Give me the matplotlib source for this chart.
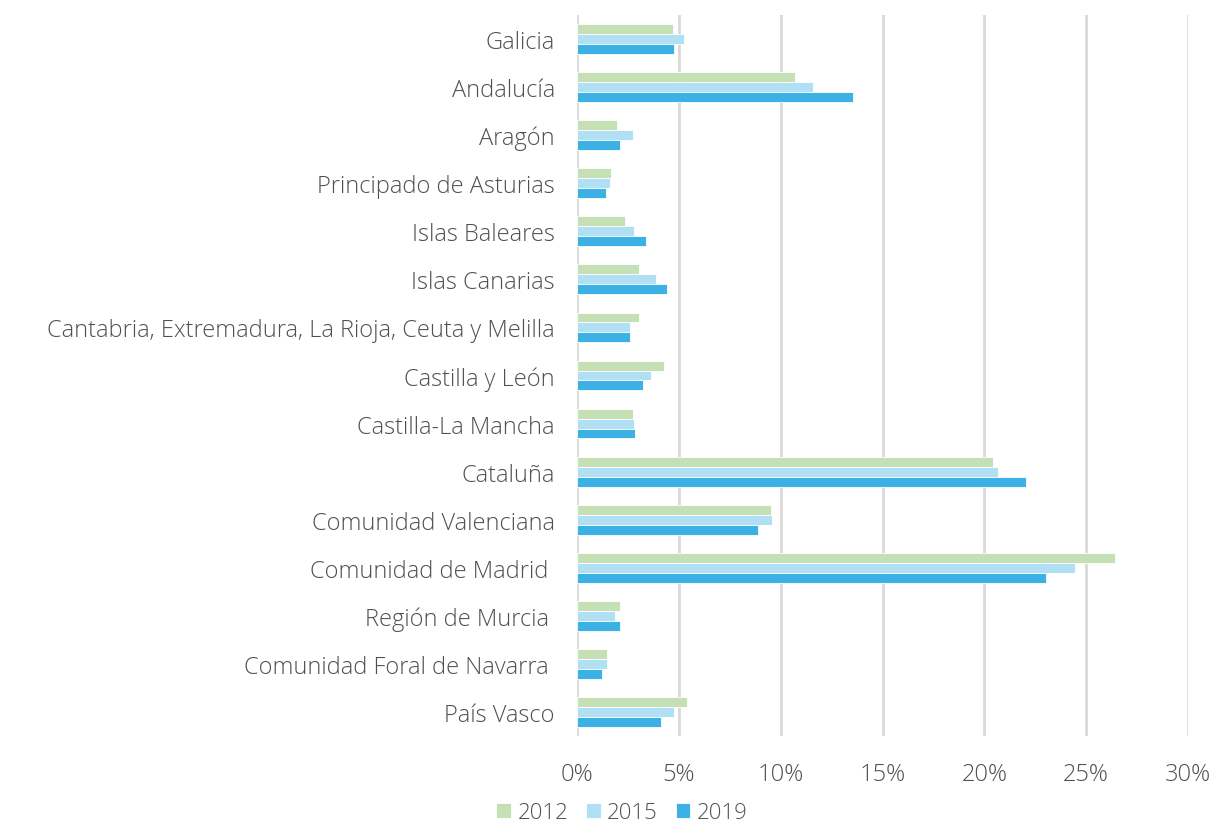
import matplotlib.pyplot as plt
import numpy as np

regions = ['Galicia', 'Andalucía', 'Aragón', 'Principado de Asturias', 'Islas Baleares',
           'Islas Canarias', 'Cantabria, Extremadura, La Rioja, Ceuta y Melilla',
           'Castilla y León', 'Castilla-La Mancha', 'Cataluña', 'Comunidad Valenciana',
           'Comunidad de Madrid ', 'Región de Murcia ', 'Comunidad Foral de Navarra ',
           'País Vasco']
years = ['2012', '2015', '2019']
v2012 = [4.70, 10.68, 1.98, 1.67, 2.36, 3.03, 3.06, 4.29, 2.74, 20.44, 9.51, 26.42, 2.12, 1.45, 5.42]
v2015 = [5.26, 11.58, 2.74, 1.64, 2.79, 3.88, 2.62, 3.65, 2.80, 20.69, 9.55, 24.46, 1.89, 1.49, 4.75]
v2019 = [4.78, 13.56, 2.11, 1.43, 3.41, 4.44, 2.59, 3.24, 2.87, 22.06, 8.90, 23.03, 2.10, 1.22, 4.13]
colors = ['#C5E0B4', '#B1DFF4', '#3BB1E6']

plt.rcParams['font.family'] = ['Open Sans', 'DejaVu Sans']
txt = '#505050'

fig = plt.figure(figsize=(12.16, 8.29), dpi=100)
ax = fig.add_axes([577/1216, 1-737/829, (1188-577)/1216, (737-16)/829])

y = np.arange(len(regions))
h = 0.207
for k, (vals, c, lab) in enumerate(zip([v2012, v2015, v2019], colors, years)):
    ax.barh(y - h + k*h, vals, height=h, color=c, label=lab, edgecolor='white', linewidth=0.6, zorder=3)

ax.set_ylim(len(regions) - 0.5, -0.5)
ax.set_xlim(0, 30)
ax.set_xticks(range(0, 31, 5))
ax.set_xticklabels([f'{t}%' for t in range(0, 31, 5)])
ax.set_yticks(y)
ax.set_yticklabels(regions)
for s in ax.spines.values():
    s.set_visible(False)
ax.grid(axis='x', color='#D9D9D9', linewidth=2, zorder=0)
ax.tick_params(axis='both', length=0, labelsize=17, labelcolor=txt)
ax.tick_params(axis='y', pad=16)
ax.tick_params(axis='x', pad=19)
for t in ax.get_xticklabels() + ax.get_yticklabels():
    t.set_fontweight('light')

leg = fig.legend(loc='center', bbox_to_anchor=(622/1216, 1-814/829), ncol=3, frameon=False,
                 handlelength=0.65, handleheight=0.65, handletextpad=0.3, columnspacing=0.8,
                 prop={'size': 16, 'weight': 'light'}, borderpad=0.2)
for t in leg.get_texts():
    t.set_color(txt)

fig.savefig('out.png', dpi=100)
